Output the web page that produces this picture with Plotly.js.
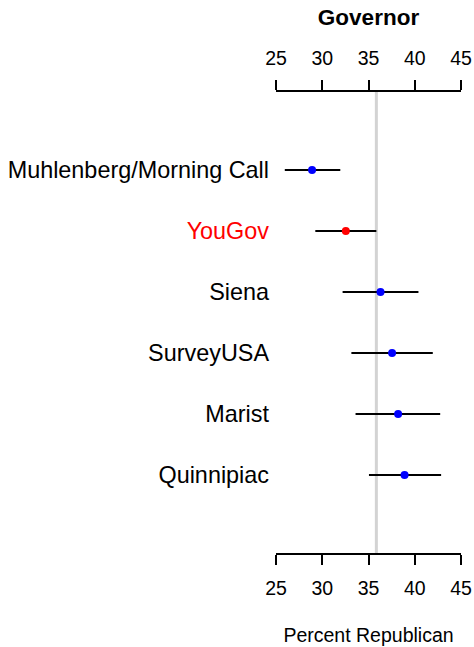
<!DOCTYPE html>
<html>
<head>
<meta charset="utf-8">
<script src="https://cdn.plot.ly/plotly-3.0.1.min.js"></script>
<style>html,body{margin:0;padding:0;background:#fff;}</style>
</head>
<body>
<div id="chart" style="width:474px;height:647px;"></div>
<script>
// Data (top to bottom)
const pollsters = ["Muhlenberg/Morning Call", "YouGov", "Siena", "SurveyUSA", "Marist", "Quinnipiac"];
const estimate  = [28.9, 32.55, 36.3, 37.55, 38.2, 38.9];
const lower     = [25.95, 29.25, 32.2, 33.15, 33.6, 35.05];
const upper     = [31.95, 35.85, 40.4, 41.95, 42.75, 42.85];
const pointColors = ["#0000ff", "#ff0000", "#0000ff", "#0000ff", "#0000ff", "#0000ff"];
const labelColors = ["#000000", "#ff0000", "#000000", "#000000", "#000000", "#000000"];
const referenceValue = 35.85;
const xTicks = [25, 30, 35, 40, 45];

const n = pollsters.length;
const ypos = pollsters.map((_, i) => n - i);

const font = "Liberation Sans, Arial, Helvetica, sans-serif";

const traces = [
  {
    type: "scatter", mode: "markers",
    x: estimate, y: ypos,
    marker: {color: pointColors, size: 8},
    error_x: {
      type: "data", symmetric: false,
      array: upper.map((u, i) => u - estimate[i]),
      arrayminus: estimate.map((e, i) => e - lower[i]),
      color: "#000000", thickness: 2, width: 0
    },
    hoverinfo: "skip", showlegend: false, cliponaxis: false
  },
  {
    type: "scatter", mode: "markers",
    x: estimate, y: ypos, xaxis: "x2",
    marker: {opacity: 0}, hoverinfo: "skip", showlegend: false
  }
];

const axisCommon = {
  range: [25, 45], tickvals: xTicks, ticktext: xTicks.map(String),
  showline: true, linecolor: "#000000", linewidth: 2,
  ticks: "outside", ticklen: 10, tickwidth: 2, tickcolor: "#000000",
  showgrid: false, zeroline: false,
  ticklabelstandoff: 7,
  tickfont: {family: font, size: 19.5, color: "#000000"}
};

const layout = {
  width: 474, height: 647,
  margin: {l: 276, r: 13, t: 92, b: 94},
  paper_bgcolor: "#ffffff", plot_bgcolor: "#ffffff",
  font: {family: font, color: "#000000"},
  title: {
    text: "<b>Governor</b>",
    font: {family: font, size: 22.5, color: "#000000"},
    x: 0.5, xanchor: "center", xref: "paper",
    y: 1 - 17 / 647, yanchor: "middle"
  },
  xaxis: Object.assign({}, axisCommon, {
    side: "bottom",
    title: {text: "Percent Republican", font: {family: font, size: 19.5, color: "#000000"}, standoff: 30}
  }),
  xaxis2: Object.assign({}, axisCommon, {side: "top", overlaying: "x", anchor: "y", matches: "x"}),
  yaxis: {
    range: [-0.28, 7.28],
    tickvals: ypos,
    ticktext: pollsters.map((p, i) => '<span style="color:' + labelColors[i] + '">' + p + '</span>'),
    tickfont: {family: font, size: 23.4, color: "#000000"},
    showline: false, showgrid: false, zeroline: false, ticks: "",
    ticklabelstandoff: 6
  },
  shapes: [{
    type: "line", xref: "x", yref: "paper",
    x0: referenceValue, x1: referenceValue, y0: 0, y1: 1,
    line: {color: "#d3d3d3", width: 3}, layer: "below"
  }]
};

Plotly.newPlot("chart", traces, layout, {displayModeBar: false, staticPlot: true});
</script>
</body>
</html>
